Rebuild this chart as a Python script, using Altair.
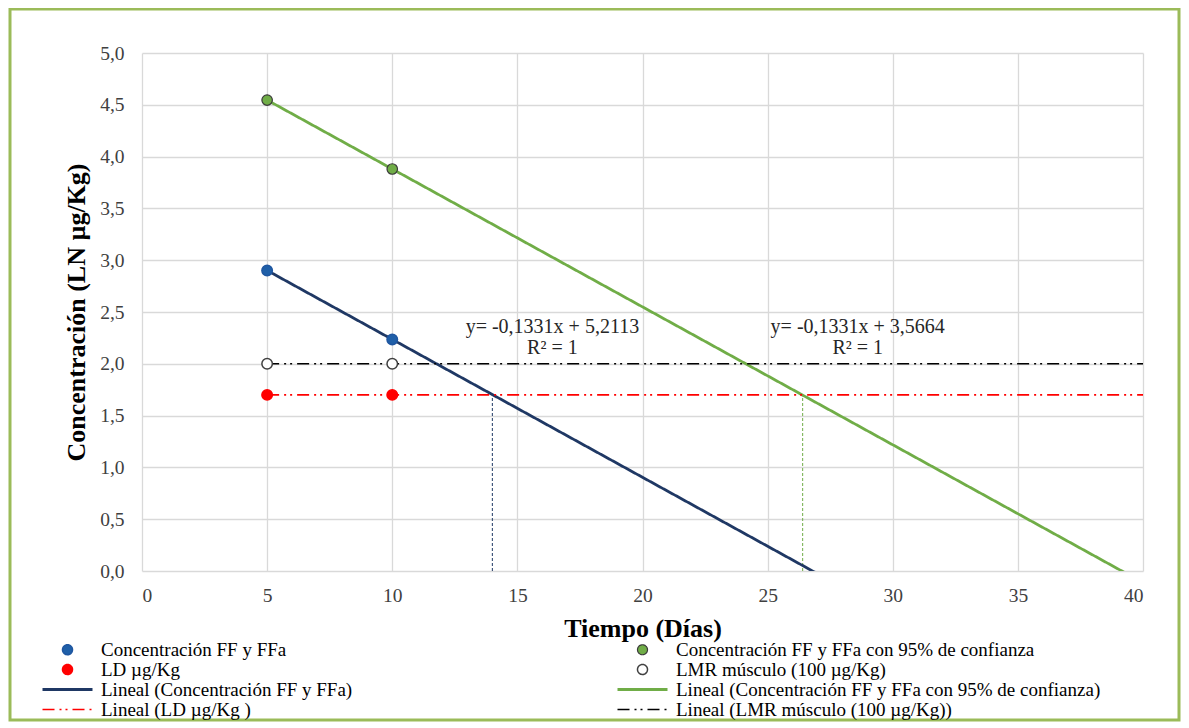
import altair as alt
import pandas as pd

# ---- data ----
dias = [5, 10]
conc = [2.9009, 2.2354]          # Concentración FF y FFa
conc95 = [4.5458, 3.8803]        # Concentración FF y FFa con 95% de confianza
ld = [1.7, 1.7]                  # LD µg/Kg
lmr = [2.0, 2.0]                 # LMR músculo (100 µg/Kg)

serie_pts = ["Concentración FF y FFa",
             "Concentración FF y FFa con 95% de confianza",
             "LD µg/Kg",
             "LMR músculo (100 µg/Kg)"]
serie_lin = ["Lineal (Concentración FF y FFa)",
             "Lineal (Concentración FF y FFa con 95% de confianza)",
             "Lineal (LD µg/Kg )",
             "Lineal (LMR músculo (100 µg/Kg))"]

# drop lines where the trend lines meet the LD level
drop_x = [14.0, 26.4]
drop_top = [1.7, 1.7]

# equation annotations
eq_text = ["y= -0,1331x + 5,2113\nR² = 1", "y= -0,1331x + 3,5664\nR² = 1"]
eq_x = [16.4, 28.6]
eq_y = [2.36, 2.36]

x_ticks = [0, 5, 10, 15, 20, 25, 30, 35, 40]
y_ticks = [0, 0.5, 1, 1.5, 2, 2.5, 3, 3.5, 4, 4.5, 5]

# ---- tables ----
rows = []
for s, l, vals in zip(serie_pts, serie_lin, [conc, conc95, ld, lmr]):
    for t, v in zip(dias, vals):
        rows.append({"t": t, "valor": v, "serie": s, "linea": l})
df = pd.DataFrame(rows)
df_drop = pd.DataFrame({"x": drop_x, "top": drop_top, "base": [0, 0]})
df_eq = pd.DataFrame({"x": eq_x, "y": eq_y, "txt": eq_text})

# legend order (filled column by column)
domain = [serie_pts[0], serie_pts[2], serie_lin[0], serie_lin[2],
          serie_pts[1], serie_pts[3], serie_lin[1], serie_lin[3]]

FONT = "Liberation Serif"
LINE = "M-5,0L5,0"
dash_ld = [12, 5, 2, 4, 2, 5]
T = "transparent"

fill_sc = alt.Scale(domain=domain, range=["#1f5fa8", "#ff0000", T, T,
                                          "#70ad47", "#ffffff", T, T])
stroke_sc = alt.Scale(domain=domain, range=["#1f56a0", "#ff0000", "#1f3864", "#ff0000",
                                            "#3a3a3a", "#404040", "#70ad47", "#000000"])
shape_sc = alt.Scale(domain=domain, range=["circle", "circle", LINE, LINE,
                                           "circle", "circle", LINE, LINE])
dash_sc = alt.Scale(domain=domain, range=[[1, 0], [1, 0], [1, 0], dash_ld,
                                          [1, 0], [1, 0], [1, 0], dash_ld])
sw_sc = alt.Scale(type="ordinal", domain=domain, range=[1.5, 1.5, 2.8, 1.6,
                                                        1.2, 1.5, 2.8, 1.6])

leg = alt.Legend(orient="none", legendX=-84, legendY=587, columns=2, title=None,
                 labelFont=FONT, labelFontSize=19, labelColor="#000000",
                 symbolSize=100, labelOffset=24, columnPadding=258, rowPadding=-1,
                 labelLimit=700)

xenc = alt.X("t:Q", scale=alt.Scale(domain=[0, 40], nice=False),
             axis=alt.Axis(values=x_ticks, title="Tiempo (Días)", labelPadding=15,
                           titlePadding=11, format="d"))
yenc = alt.Y("valor:Q", scale=alt.Scale(domain=[0, 5], nice=False),
             axis=alt.Axis(values=y_ticks, title="Concentración (LN µg/Kg)",
                           labelExpr="replace(format(datum.value, '.1f'), '.', ',')",
                           labelPadding=18, titlePadding=10))

base = alt.Chart(df)

lines = base.transform_regression(
    on="t", regression="valor", groupby=["linea"], extent=[5, 40]
).transform_calculate(leyenda="datum.linea").mark_line(clip=True).encode(
    x=xenc, y=yenc,
    stroke=alt.Stroke("leyenda:N", scale=stroke_sc, legend=leg),
    strokeDash=alt.StrokeDash("leyenda:N", scale=dash_sc, legend=leg),
    strokeWidth=alt.StrokeWidth("leyenda:N", scale=sw_sc, legend=leg),
)

pts = base.transform_calculate(leyenda="datum.serie").mark_point(filled=True, size=110, opacity=1).encode(
    x="t:Q", y="valor:Q",
    fill=alt.Fill("leyenda:N", scale=fill_sc, legend=leg),
    stroke=alt.Stroke("leyenda:N", scale=stroke_sc, legend=leg),
    shape=alt.Shape("leyenda:N", scale=shape_sc, legend=leg),
    strokeWidth=alt.StrokeWidth("leyenda:N", scale=sw_sc, legend=leg),
)

drop1 = alt.Chart(df_drop).transform_filter("datum.x < 20").mark_rule(
    color="#1f3864", strokeDash=[3, 2], strokeWidth=1).encode(x="x:Q", y="base:Q", y2="top:Q")
drop2 = alt.Chart(df_drop).transform_filter("datum.x > 20").mark_rule(
    color="#70ad47", strokeDash=[3, 2], strokeWidth=1).encode(x="x:Q", y="base:Q", y2="top:Q")

eqs = alt.Chart(df_eq).mark_text(font=FONT, fontSize=20, color="#262626", lineBreak="\n",
                                  align="center", baseline="middle", lineHeight=21).encode(
    x="x:Q", y="y:Q", text="txt:N")

frame = alt.Chart(pd.DataFrame({"k": [0]})).mark_rect(
    fill="transparent", stroke="#9bbb59", strokeWidth=3).encode(
    x=alt.value(-132), x2=alt.value(1037), y=alt.value(-44), y2=alt.value(667))

chart = alt.layer(frame, drop1, drop2, lines, pts, eqs).properties(
    width=1001, height=518,
    autosize=alt.AutoSizeParams(type="none"),
    padding={"left": 134, "top": 45, "right": 38, "bottom": 156},
    background="white",
).configure_view(stroke=None).configure_axis(
    grid=True, gridColor="#d9d9d9", gridWidth=1.3, domain=False, ticks=False,
    labelFont=FONT, labelFontSize=19.5, labelColor="#404040",
    titleFont=FONT, titleFontSize=26, titleFontWeight="bold", titleColor="#000000",
)

chart.save("out.html", embed_options={"renderer": "svg", "actions": False})
